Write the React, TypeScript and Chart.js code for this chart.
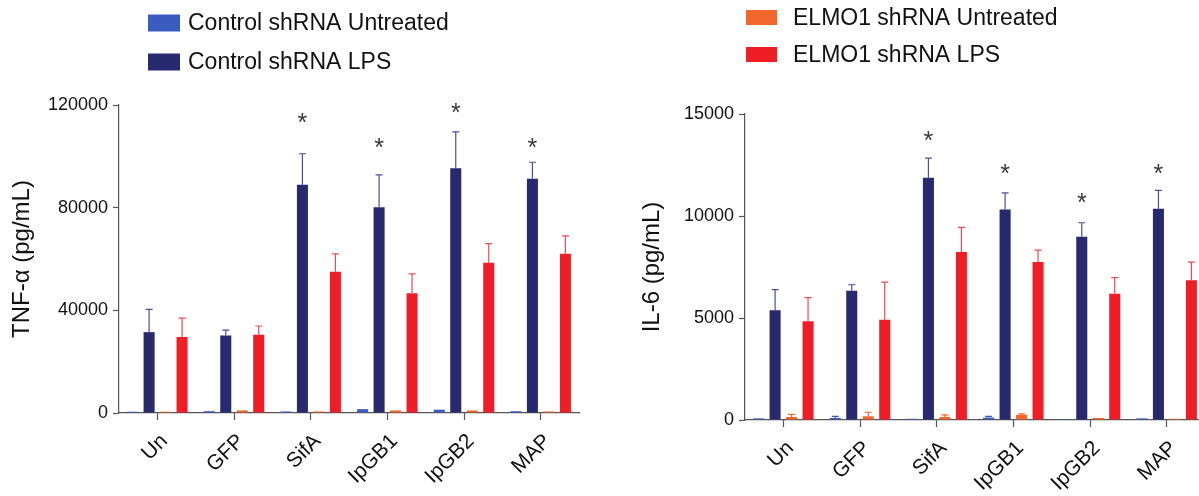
import React, { useEffect, useRef } from 'react';
import { Chart, registerables } from 'chart.js';

Chart.register(...registerables);

// ---------- data ----------
const categories = ['Un', 'GFP', 'SifA', 'IpGB1', 'IpGB2', 'MAP'];
const seriesLabels = [
  'Control shRNA Untreated',
  'Control shRNA LPS',
  'ELMO1 shRNA Untreated',
  'ELMO1 shRNA LPS',
];

// TNF-α (pg/mL)
const tnfCtrlUntreated = [500, 700, 600, 1500, 1300, 700];
const tnfCtrlUntreatedErr = [0, 0, 0, 0, 0, 0];
const tnfCtrlLPS = [31500, 30200, 88900, 80200, 95400, 91300];
const tnfCtrlLPSErr = [8900, 2100, 12100, 12600, 14100, 6400];
const tnfElmoUntreated = [500, 1000, 600, 1000, 1000, 600];
const tnfElmoUntreatedErr = [0, 0, 0, 0, 0, 0];
const tnfElmoLPS = [29600, 30500, 55000, 46700, 58500, 62000];
const tnfElmoLPSErr = [7400, 3400, 7000, 7500, 7500, 7000];
const tnfStars = [null, null, 115500, 105600, 119300, 105600];
const tnfTicks = [0, 40000, 80000, 120000];

// IL-6 (pg/mL)
const il6CtrlUntreated = [80, 100, 60, 120, 40, 80];
const il6CtrlUntreatedErr = [0, 80, 0, 60, 0, 0];
const il6ElmoUntreated = [150, 180, 150, 250, 100, 60];
const il6ElmoUntreatedErr = [130, 200, 100, 50, 0, 0];
const il6CtrlLPS = [5380, 6340, 11880, 10320, 8980, 10350];
const il6CtrlLPSErr = [1010, 290, 960, 810, 690, 910];
const il6ElmoLPS = [4840, 4920, 8230, 7740, 6190, 6850];
const il6ElmoLPSErr = [1160, 1840, 1210, 590, 790, 890];
const il6Stars = [null, null, 13970, 12360, 10940, 12360];
const il6Ticks = [0, 5000, 10000, 15000];

// ---------- styles ----------
const FONT = '"Liberation Sans", Arial, Helvetica, sans-serif';
const barColors = ['#3a5cbf', '#272a6f', '#f2652b', '#ee1d26'];
const errColors = ['#3a5cbf', '#4a4f98', '#f2652b', '#f04a52'];
const axisColor = '#555555';

const errorBarPlugin = {
  id: 'errorBars',
  afterDatasetsDraw(chart: any) {
    const { ctx } = chart;
    const yScale = chart.scales.y;
    chart.data.datasets.forEach((ds: any, i: number) => {
      const meta = chart.getDatasetMeta(i);
      if (!ds.errors) return;
      meta.data.forEach((el: any, j: number) => {
        const err = ds.errors[j];
        if (!err) return;
        const v = ds.data[j];
        const y0 = yScale.getPixelForValue(v);
        const y1 = yScale.getPixelForValue(v + err);
        ctx.save();
        ctx.strokeStyle = ds.errorColor;
        ctx.lineWidth = 1.2;
        ctx.beginPath();
        ctx.moveTo(el.x, y0);
        ctx.lineTo(el.x, y1);
        ctx.moveTo(el.x - 3.5, y1);
        ctx.lineTo(el.x + 3.5, y1);
        ctx.stroke();
        ctx.restore();
      });
    });
  },
};

const starPlugin = {
  id: 'stars',
  afterDatasetsDraw(chart: any, _args: any, opts: any) {
    if (!opts || !opts.values) return;
    const { ctx } = chart;
    const yScale = chart.scales.y;
    const meta = chart.getDatasetMeta(opts.datasetIndex);
    ctx.save();
    ctx.fillStyle = '#3a3a3a';
    ctx.font = `25px ${FONT}`;
    ctx.textAlign = 'center';
    ctx.textBaseline = 'alphabetic';
    opts.values.forEach((v: number | null, j: number) => {
      if (v == null) return;
      const el = meta.data[j];
      const y = yScale.getPixelForValue(v);
      ctx.fillText('*', el.x, y + 25 * 0.57);
    });
    ctx.restore();
  },
};

const legendPlugin = {
  id: 'customLegend',
  afterDraw(chart: any, _args: any, opts: any) {
    if (!opts || !opts.items) return;
    const { ctx } = chart;
    ctx.save();
    opts.items.forEach((dsIndex: number, k: number) => {
      const ds = chart.data.datasets[dsIndex];
      const cy = opts.rows[k];
      ctx.fillStyle = ds.backgroundColor;
      ctx.fillRect(opts.boxX, cy - opts.boxH / 2, opts.boxW, opts.boxH);
      ctx.fillStyle = '#111111';
      ctx.font = `${opts.fontSize}px ${FONT}`;
      ctx.textAlign = 'left';
      ctx.textBaseline = 'middle';
      ctx.fillText(ds.label, opts.textX, cy + 1);
    });
    ctx.restore();
  },
};

type PanelProps = {
  width: number;
  series: number[][];
  errors: number[][];
  stars: (number | null)[];
  ticks: number[];
  yTitle: string;
  layout: {
    yWidth: number;
    xHeight: number;
    padTop: number;
    padRight: number;
    titlePad: number;
  };
  legend: any;
};

function Panel(props: PanelProps) {
  const ref = useRef<HTMLCanvasElement | null>(null);
  useEffect(() => {
    if (!ref.current) return;
    const { layout, ticks } = props;
    const chart = new Chart(ref.current, {
      type: 'bar',
      data: {
        labels: categories,
        datasets: props.series.map((d, i) => ({
          label: seriesLabels[i],
          data: d,
          errors: props.errors[i],
          errorColor: errColors[i],
          backgroundColor: barColors[i],
          borderWidth: 0,
          categoryPercentage: 0.86,
          barPercentage: 0.67,
        })) as any,
      },
      options: {
        responsive: false,
        animation: false,
        devicePixelRatio: 1,
        layout: {
          padding: { left: 0, right: layout.padRight, top: layout.padTop, bottom: 0 },
        },
        plugins: {
          legend: { display: false },
          tooltip: { enabled: false },
          customLegend: props.legend,
          stars: { values: props.stars, datasetIndex: 1 },
        } as any,
        scales: {
          x: {
            offset: true,
            grid: {
              display: true,
              offset: false,
              drawOnChartArea: false,
              drawTicks: true,
              tickLength: 7,
              tickColor: axisColor,
              tickWidth: 1.2,
            },
            border: { display: true, color: axisColor, width: 1.2 },
            ticks: {
              autoSkip: false,
              minRotation: 45,
              maxRotation: 45,
              padding: 9,
              labelOffset: 7,
              color: '#111111',
              font: { family: FONT, size: 21 },
            },
            afterFit: (s: any) => {
              s.height = layout.xHeight;
            },
          },
          y: {
            min: 0,
            max: ticks[ticks.length - 1],
            afterBuildTicks: (s: any) => {
              s.ticks = ticks.map((v) => ({ value: v }));
            },
            grid: {
              display: true,
              drawOnChartArea: false,
              drawTicks: true,
              tickLength: 6,
              tickColor: axisColor,
              tickWidth: 1.2,
            },
            border: { display: true, color: axisColor, width: 1.2 },
            ticks: {
              padding: 5,
              color: '#111111',
              font: { family: FONT, size: 18 },
              callback: (v: any) => String(v),
            },
            title: {
              display: true,
              text: props.yTitle,
              color: '#111111',
              font: { family: FONT, size: 24 },
              padding: { top: layout.titlePad, bottom: 0 },
            },
            afterFit: (s: any) => {
              s.width = layout.yWidth;
            },
          },
        },
      } as any,
      plugins: [errorBarPlugin, starPlugin, legendPlugin],
    });
    return () => chart.destroy();
  }, []);
  return (
    <canvas
      ref={ref}
      width={props.width}
      height={496}
      style={{ width: props.width, height: 496, display: 'block' }}
    />
  );
}

export default function App() {
  return (
    <div
      style={{
        position: 'fixed',
        left: 0,
        top: 0,
        width: 1199,
        height: 496,
        overflow: 'hidden',
        background: '#ffffff',
      }}
    >
      <div style={{ position: 'absolute', left: 0, top: 0 }}>
        <Panel
          width={600}
          series={[tnfCtrlUntreated, tnfCtrlLPS, tnfElmoUntreated, tnfElmoLPS]}
          errors={[tnfCtrlUntreatedErr, tnfCtrlLPSErr, tnfElmoUntreatedErr, tnfElmoLPSErr]}
          stars={tnfStars}
          ticks={tnfTicks}
          yTitle="TNF-α (pg/mL)"
          layout={{ yWidth: 119, xHeight: 83, padTop: 105, padRight: 21, titlePad: 8 }}
          legend={{ items: [0, 1], rows: [23, 62], boxX: 148, boxW: 32, boxH: 17, textX: 188, fontSize: 23 }}
        />
      </div>
      <div style={{ position: 'absolute', left: 600, top: 0 }}>
        <Panel
          width={610}
          series={[il6CtrlUntreated, il6CtrlLPS, il6ElmoUntreated, il6ElmoLPS]}
          errors={[il6CtrlUntreatedErr, il6CtrlLPSErr, il6ElmoUntreatedErr, il6ElmoLPSErr]}
          stars={il6Stars}
          ticks={il6Ticks}
          yTitle="IL-6 (pg/mL)"
          layout={{ yWidth: 145, xHeight: 76, padTop: 114, padRight: 5, titlePad: 38 }}
          legend={{ items: [2, 3], rows: [17.5, 54.5], boxX: 146, boxW: 31, boxH: 15, textX: 193, fontSize: 23 }}
        />
      </div>
    </div>
  );
}
